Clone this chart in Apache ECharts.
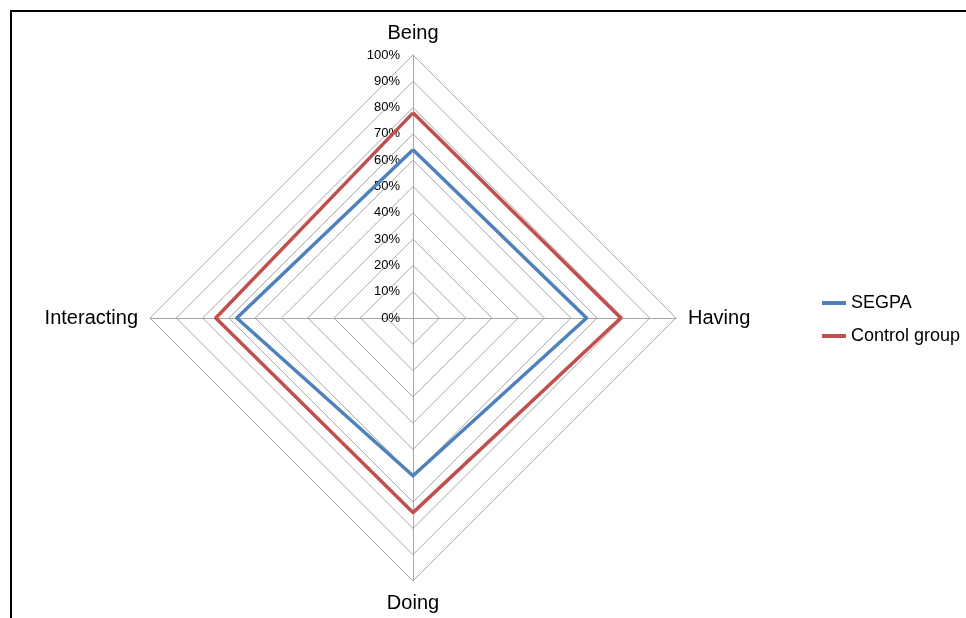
<!DOCTYPE html>
<html>
<head>
<meta charset="utf-8">
<script src="https://cdn.jsdelivr.net/npm/echarts@6/dist/echarts.min.js"></script>
<style>
  html, body { margin: 0; padding: 0; background: #fff; }
  #frame { position: absolute; left: 10px; top: 10px; width: 956px; height: 608px;
           border-left: 2px solid #000; border-top: 2px solid #000; box-sizing: border-box; }
  #chart { position: absolute; left: 0; top: 0; width: 966px; height: 618px; }
</style>
</head>
<body>
<div id="frame"></div>
<div id="chart"></div>
<script>
// Categories in clockwise order starting from the top
const indicators = ['Being', 'Having', 'Doing', 'Interacting'];
const segpa = [64, 66, 60, 67];
const control = [78, 79, 74, 75];
const seriesNames = ['SEGPA', 'Control group'];
const axisMax = 100;
const tickCount = 10;

// ECharts radar runs counter-clockwise: reorder to draw clockwise
const order = [0, 3, 2, 1];
const pick = arr => order.map(i => arr[i]);

const chart = echarts.init(document.getElementById('chart'));
const font = '"Liberation Sans", Arial, sans-serif';
chart.setOption({
  animation: false,
  textStyle: { fontFamily: font },
  legend: {
    orient: 'vertical',
    left: 817,
    top: 289,
    itemGap: 15,
    itemWidth: 24,
    itemHeight: 4,
    icon: 'rect',
    textStyle: { fontSize: 18, color: '#000', fontFamily: font },
    data: seriesNames
  },
  radar: {
    center: [413, 318],
    radius: 263,
    startAngle: 90,
    shape: 'polygon',
    splitNumber: tickCount,
    nameGap: 12,
    axisName: { color: '#000', fontSize: 20, fontFamily: font },
    indicator: pick(indicators).map((n, i) => i === 0
      ? { name: n, min: 0, max: axisMax, axisLabel: { show: true } }
      : { name: n, min: 0, max: axisMax }),
    axisLabel: {
      show: false,
      color: '#000',
      fontSize: 13,
      fontFamily: font,
      margin: 13,
      formatter: '{value}%'
    },
    axisLine: { lineStyle: { color: '#a6a6a6', width: 1 } },
    splitLine: { lineStyle: { color: '#a6a6a6', width: 1 } },
    splitArea: { show: false },
    axisTick: { show: false }
  },
  series: [{
    type: 'radar',
    symbol: 'none',
    data: [
      { name: seriesNames[0], value: pick(segpa),
        lineStyle: { color: '#4F81BD', width: 3.5 }, itemStyle: { color: '#4F81BD' } },
      { name: seriesNames[1], value: pick(control),
        lineStyle: { color: '#C0504D', width: 3.5 }, itemStyle: { color: '#C0504D' } }
    ]
  }]
});
</script>
</body>
</html>
